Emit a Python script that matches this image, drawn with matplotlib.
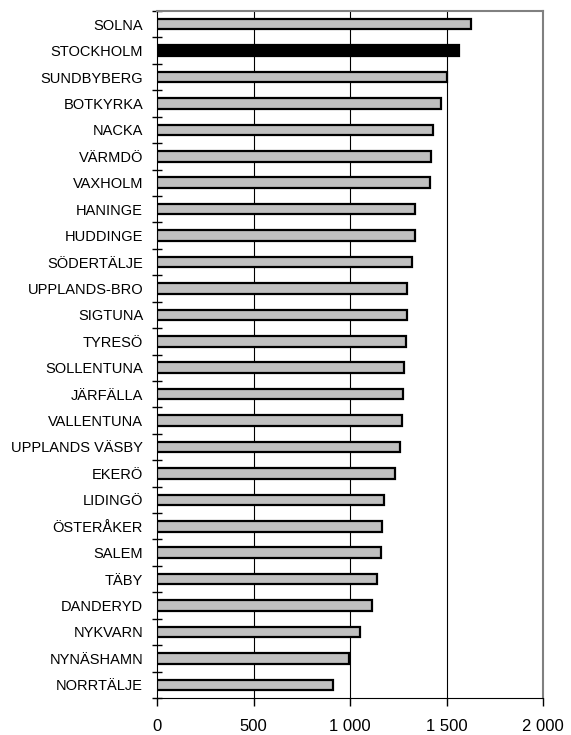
import matplotlib
matplotlib.use('Agg')
import matplotlib.pyplot as plt
import numpy as np
from matplotlib.ticker import FixedLocator, FuncFormatter

plt.rcParams['font.family'] = ['Liberation Sans', 'DejaVu Sans']

kommuner = ['SOLNA', 'STOCKHOLM', 'SUNDBYBERG', 'BOTKYRKA', 'NACKA', 'VÄRMDÖ',
            'VAXHOLM', 'HANINGE', 'HUDDINGE', 'SÖDERTÄLJE', 'UPPLANDS-BRO',
            'SIGTUNA', 'TYRESÖ', 'SOLLENTUNA', 'JÄRFÄLLA', 'VALLENTUNA',
            'UPPLANDS VÄSBY', 'EKERÖ', 'LIDINGÖ', 'ÖSTERÅKER', 'SALEM', 'TÄBY',
            'DANDERYD', 'NYKVARN', 'NYNÄSHAMN', 'NORRTÄLJE']
varden = [1625, 1563, 1500, 1474, 1431, 1422, 1414, 1335, 1335, 1323, 1297,
          1293, 1289, 1280, 1276, 1272, 1259, 1233, 1176, 1167, 1161, 1139,
          1116, 1052, 993, 914]
markerad = 'STOCKHOLM'

fig = plt.figure(figsize=(5.71, 7.35), dpi=100)
ax = fig.add_axes([157/571, 1-698/735, (543-157)/571, (698-11)/735])

y = np.arange(len(kommuner))
farger = ['black' if k == markerad else '#c0c0c0' for k in kommuner]
ax.barh(y, varden, height=0.4, color=farger, edgecolor='black', linewidth=1.6, zorder=3)

ax.set_xlim(0, 2000)
ax.set_ylim(len(kommuner)-0.5, -0.5)
ax.set_xticks([0, 500, 1000, 1500, 2000])
ax.xaxis.set_major_formatter(FuncFormatter(lambda v, p: '{:,.0f}'.format(v).replace(',', ' ')))
ax.tick_params(axis='x', labelsize=12, length=6, width=1, direction='out', pad=9)

ax.set_yticks(y)
ax.set_yticklabels(kommuner)
ax.tick_params(axis='y', which='major', length=0, labelsize=10.5, pad=10)
ax.yaxis.set_minor_locator(FixedLocator(np.arange(len(kommuner)+1) - 0.5))
ax.tick_params(axis='y', which='minor', length=6.5, width=1, direction='inout')

for v in [500, 1000, 1500]:
    ax.axvline(v, color='black', linewidth=0.8, zorder=1)

ax.spines['left'].set_color('black')
ax.spines['bottom'].set_color('black')
ax.spines['top'].set_color('#808080')
ax.spines['right'].set_color('#808080')
ax.spines['right'].set_linewidth(1.5)
ax.spines['top'].set_linewidth(1.5)

fig.savefig('out.png', dpi=100)
